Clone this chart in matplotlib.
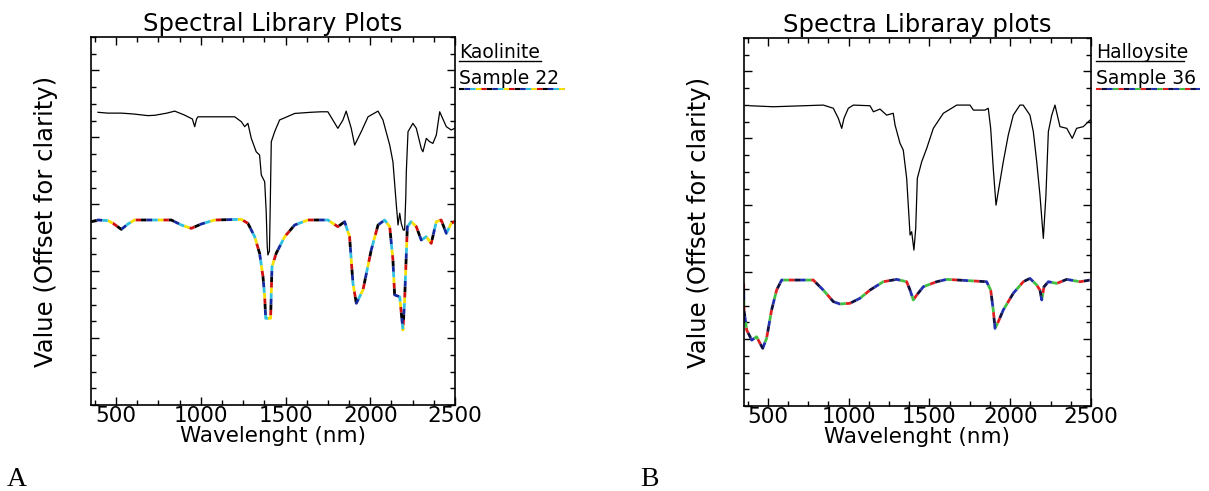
import numpy as np
import matplotlib
matplotlib.use("Agg")
import matplotlib.pyplot as plt
from matplotlib.lines import Line2D
from matplotlib.ticker import MultipleLocator

plt.rcParams['font.family'] = ['DejaVu Sans']
plt.rcParams['lines.scale_dashes'] = False

# panel A - kaolinite, library (black) and sample 22 (coloured)
wl_a_lib = [393, 450, 531, 600, 688, 728, 800, 846, 900, 924, 950, 964, 975, 983, 1100, 1200,
            1239, 1259, 1278, 1298, 1327, 1347, 1357, 1377, 1386, 1392, 1396, 1405, 1410, 1416,
            1436, 1465, 1495, 1554, 1650, 1711, 1750, 1809, 1839, 1858, 1888, 1908, 1947, 1987,
            2046, 2075, 2115, 2134, 2154, 2164, 2174, 2183, 2195, 2203, 2210, 2213, 2223, 2252,
            2272, 2301, 2311, 2331, 2351, 2370, 2390, 2410, 2449, 2478, 2498]
val_a_lib = [17.50, 17.45, 17.45, 17.40, 17.30, 17.32, 17.45, 17.57, 17.35, 17.23, 17.10, 16.64,
             17.10, 17.23, 17.23, 17.23, 16.94, 16.64, 16.84, 15.94, 15.14, 14.94, 13.75, 13.35,
             11.55, 9.50, 8.97, 9.20, 12.00, 15.74, 16.34, 17.04, 17.17, 17.43, 17.50, 17.53,
             17.53, 16.54, 17.04, 17.57, 16.54, 15.54, 16.34, 17.23, 17.57, 17.04, 15.54, 14.54,
             11.96, 10.76, 11.46, 10.86, 10.46, 10.46, 12.50, 13.95, 16.34, 16.84, 16.54, 15.34,
             15.14, 15.94, 15.74, 15.64, 16.14, 17.53, 16.64, 16.44, 16.54]

wl_a_smp = [354, 393, 452, 482, 531, 570, 609, 826, 885, 944, 1003, 1082, 1239, 1278, 1318, 1347,
            1367, 1377, 1383, 1412, 1420, 1445, 1495, 1554, 1632, 1750, 1809, 1849, 1878, 1898,
            1918, 1957, 2006, 2046, 2085, 2115, 2134, 2144, 2174, 2193, 2203, 2219, 2242, 2272,
            2301, 2331, 2360, 2390, 2419, 2449, 2478, 2498]
val_a_smp = [10.96, 11.06, 11.02, 10.86, 10.50, 10.82, 11.06, 11.06, 10.76, 10.56, 10.82, 11.06,
             11.10, 10.86, 10.06, 9.07, 7.67, 6.47, 5.18, 5.18, 8.26, 9.07, 10.06, 10.76, 11.06,
             11.06, 10.66, 10.96, 10.06, 7.27, 6.08, 6.87, 9.27, 10.76, 11.06, 10.66, 8.67, 6.58,
             6.47, 4.48, 6.28, 10.66, 10.96, 10.66, 9.86, 10.06, 9.66, 10.96, 11.06, 10.26, 10.86,
             10.96]

# panel B - halloysite, library (black) and sample 36 (coloured)
wl_b_lib = [389, 533, 843, 905, 936, 957, 971, 998, 1029, 1132, 1153, 1194, 1235, 1276, 1287,
            1318, 1338, 1359, 1369, 1380, 1390, 1404, 1415, 1425, 1452, 1483, 1524, 1586, 1669,
            1751, 1772, 1844, 1864, 1879, 1895, 1912, 1926, 1957, 1988, 2019, 2060, 2080, 2122,
            2143, 2164, 2184, 2205, 2221, 2236, 2257, 2277, 2308, 2350, 2384, 2411, 2452, 2494]
val_b_lib = [17.95, 17.89, 17.99, 17.80, 17.20, 16.60, 17.20, 17.80, 17.99, 17.95, 17.59, 17.75,
             17.39, 17.50, 16.80, 15.70, 15.30, 13.61, 12.01, 10.22, 10.42, 9.32, 10.62, 13.61,
             14.60, 15.40, 16.60, 17.50, 17.99, 17.99, 17.69, 17.69, 17.80, 16.60, 14.21, 12.01,
             12.81, 14.60, 16.20, 17.39, 17.99, 17.99, 17.39, 16.40, 14.60, 12.61, 10.02, 12.61,
             16.40, 17.39, 17.99, 16.70, 16.60, 16.00, 16.60, 16.70, 17.09]

wl_b_smp = [350, 352, 369, 400, 430, 451, 468, 492, 523, 554, 585, 781, 843, 905, 946, 1008,
            1070, 1132, 1214, 1297, 1359, 1380, 1400, 1421, 1462, 1545, 1607, 1854, 1879, 1895,
            1906, 1926, 1957, 2019, 2081, 2122, 2143, 2164, 2184, 2195, 2209, 2236, 2288, 2350,
            2432, 2494]
val_b_smp = [7.33, 5.74, 4.54, 3.94, 4.14, 3.75, 3.45, 4.05, 5.74, 6.93, 7.53, 7.53, 6.93, 6.24,
             6.10, 6.14, 6.44, 6.93, 7.43, 7.57, 7.43, 6.93, 6.34, 6.63, 7.13, 7.43, 7.57, 7.43,
             6.93, 5.74, 4.64, 5.04, 5.74, 6.74, 7.43, 7.63, 7.43, 7.23, 6.93, 6.34, 7.13, 7.43,
             7.33, 7.57, 7.43, 7.53]

xticks = [500, 1000, 1500, 2000, 2500]
colors_a = ['black', '#d01010', '#f5e000', '#30c0e0', '#1428a0']
colors_b = ['#e02020', '#40c040', '#2030b0', '#101040']
seg = 4.0


def multicolor(ax, x, y, cols, lw=2.0, **kw):
    n = len(cols)
    for i, c in enumerate(cols):
        ax.plot(x, y, color=c, lw=lw, solid_capstyle='butt',
                linestyle=(i * seg, (seg, seg * (n - 1))), **kw)


def setup(ax, title):
    ax.set_xlim(350, 2500)
    ax.set_ylim(0, 22)
    ax.set_xticks(xticks)
    ax.xaxis.set_minor_locator(MultipleLocator(125))
    ax.yaxis.set_major_locator(MultipleLocator(4))
    ax.yaxis.set_minor_locator(MultipleLocator(1))
    ax.tick_params(which='both', direction='in', top=True, right=True, width=1.0)
    ax.tick_params(which='major', length=6, labelsize=15.5, pad=1)
    ax.tick_params(which='minor', length=3.5)
    ax.tick_params(axis='y', labelleft=False)
    for s in ax.spines.values():
        s.set_linewidth(1.2)
    ax.set_title(title, fontsize=17.5, pad=4)
    ax.set_xlabel('Wavelenght (nm)', fontsize=15.5, labelpad=0)
    ax.set_ylabel('Value (Offset for clarity)', fontsize=17.5, labelpad=20)


fig = plt.figure(figsize=(12.09, 4.91), dpi=100)
ax1 = fig.add_axes([0.075, 0.1752, 0.3013, 0.7494])
ax2 = fig.add_axes([0.6151, 0.1731, 0.2873, 0.7495])

ax1.plot(wl_a_lib, val_a_lib, color='black', lw=0.9)
multicolor(ax1, wl_a_smp, val_a_smp, colors_a)
setup(ax1, 'Spectral Library Plots')

ax2.plot(wl_b_lib, val_b_lib, color='black', lw=0.9)
multicolor(ax2, wl_b_smp, val_b_smp, colors_b)
setup(ax2, 'Spectra Libraray plots')

W, H = 1209.0, 491.0


def legend(x0, x1, x2, name, sample, cols):
    fig.text(x0 / W, 1 - 52 / H, name, fontsize=13.5, va='center', ha='left')
    fig.add_artist(Line2D([x0 / W, x1 / W], [1 - 61 / H, 1 - 61 / H], color='black', lw=1.0))
    fig.text(x0 / W, 1 - 79 / H, sample, fontsize=13.5, va='center', ha='left')
    n = len(cols)
    for i, c in enumerate(cols):
        fig.add_artist(Line2D([x0 / W, x2 / W], [1 - 89 / H, 1 - 89 / H], color=c, lw=1.5,
                              solid_capstyle='butt', linestyle=(i * seg, (seg, seg * (n - 1)))))


legend(459, 541, 565, 'Kaolinite', 'Sample 22', colors_a)
legend(1096, 1184, 1200, 'Halloysite', 'Sample 36', colors_b)

fig.text(7 / W, 1 - 479 / H, 'A', family='Liberation Serif', fontsize=20, va='center', ha='left')
fig.text(640 / W, 1 - 479 / H, 'B', family='Liberation Serif', fontsize=20, va='center', ha='left')

fig.savefig('out.png', dpi=100)
